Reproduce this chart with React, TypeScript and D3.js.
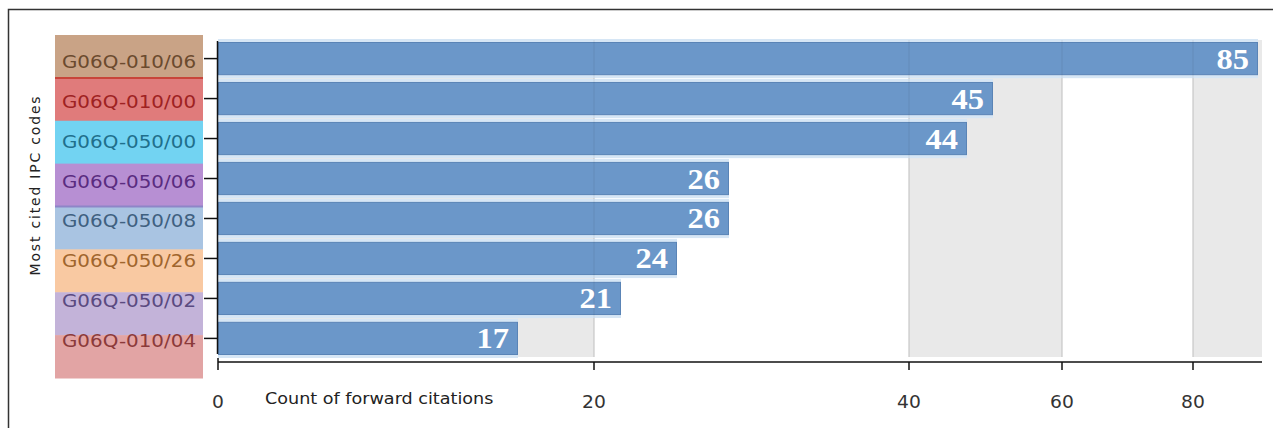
import React from "react";
import * as d3 from "d3";

const categories = [
  "G06Q-010/06",
  "G06Q-010/00",
  "G06Q-050/00",
  "G06Q-050/06",
  "G06Q-050/08",
  "G06Q-050/26",
  "G06Q-050/02",
  "G06Q-010/04",
];
const values = [85, 45, 44, 26, 26, 24, 21, 17];
const tickValues = [0, 20, 40, 60, 80];
const labelFills = ["#c9a386", "#e07b7b", "#72d3f2", "#b78fd3", "#a9c4e2", "#f9c9a2", "#c3b3d9", "#e2a4a4"];
const labelInk = ["#6b4a2e", "#9e2222", "#1f6f8c", "#5a2c80", "#3f6080", "#a0652d", "#5a4a80", "#8b3a3a"];
const separatorRows = [1, 4];
const separatorColors = ["#c8453a", "#8e85c8"];
const xTitle = "Count of forward citations";
const yTitle = "Most cited IPC codes";

// the reference axis is non-uniform: knots
const xKnots = [0, 17, 20, 21, 24, 26, 40, 44, 45, 60, 80, 85, 85.3];
const xKnotPx = [218, 518, 594, 621, 677, 729, 909, 967, 993, 1062, 1193, 1258, 1262];

export default function App() {
  const W = 1273, H = 428;
  const x = d3.scaleLinear().domain(xKnots).range(xKnotPx);
  const y = d3.scaleBand<string>().domain(categories).range([42, 355]).paddingInner(0.17).paddingOuter(0);
  const yLab = d3.scaleBand<string>().domain(categories).range([35, 378]).padding(0);
  const plotTop = 40, plotBottom = 357;
  const xMax = xKnots[xKnots.length - 1];
  const bandEdges = [...tickValues, xMax];
  const axisY = 362;
  const sans = "'DejaVu Sans', Verdana, sans-serif";

  return (
    <svg width={W} height={H} style={{ position: "absolute", left: 0, top: 0, background: "#fff" }}>
      {/* frame */}
      <path d={`M8.5,${H} V9.5 H${W}`} fill="none" stroke="#333" strokeWidth={1.5} />

      {/* alternating bands */}
      {bandEdges.slice(0, -1).map((v, i) => (
        <rect key={"b" + i} x={x(v)} y={plotTop} width={x(bandEdges[i + 1]) - x(v)} height={plotBottom - plotTop}
          fill={i % 2 === 0 ? "#e9e9e9" : "#ffffff"} />
      ))}
      {tickValues.slice(1).map((v) => (
        <line key={"g" + v} x1={x(v)} x2={x(v)} y1={plotTop} y2={plotBottom} stroke="#cfcfcf" strokeWidth={1} />
      ))}

      {/* bars */}
      {categories.map((c, i) => (
        <rect key={"h" + c} x={x(0)} y={(y(c) as number) - 3} width={x(values[i]) - x(0)} height={y.bandwidth() + 6}
          fill="#d6e6f5" />
      ))}
      {categories.map((c, i) => (
        <rect key={"r" + c} x={x(0) + 0.5} y={(y(c) as number) + 0.5} width={x(values[i]) - x(0) - 1} height={y.bandwidth() - 1}
          fill="#6b97c9" stroke="#5a84b6" strokeWidth={1} />
      ))}
      {tickValues.slice(1).map((v) => (
        <line key={"go" + v} x1={x(v)} x2={x(v)} y1={plotTop} y2={plotBottom} stroke="#000" strokeOpacity={0.07} strokeWidth={1} />
      ))}
      {categories.map((c, i) => (
        <text key={"v" + c}
          transform={`translate(${x(values[i]) - 9},${(y(c) as number) + y.bandwidth() / 2 + 10}) scale(1.12,1)`}
          textAnchor="end" fill="#fff" fontFamily="'Liberation Serif', 'Times New Roman', serif"
          fontWeight="bold" fontSize={29}>
          {values[i]}
        </text>
      ))}

      {/* category colour column */}
      {categories.map((c, i) => (
        <rect key={"l" + c} x={55} y={yLab(c)} width={148} height={yLab.bandwidth() + 0.5} fill={labelFills[i]} />
      ))}
      {separatorRows.map((r, k) => (
        <line key={"s" + r} x1={55} x2={203} y1={yLab(categories[r])} y2={yLab(categories[r])}
          stroke={separatorColors[k]} strokeWidth={2} />
      ))}
      {categories.map((c, i) => (
        <text key={"t" + c}
          transform={`translate(${129},${(y(c) as number) + y.bandwidth() / 2 + 9}) scale(1.17,1)`}
          textAnchor="middle" fill={labelInk[i]} fontFamily={sans} fontSize={17}>
          {c}
        </text>
      ))}

      {/* y axis */}
      <line x1={217.5} x2={217.5} y1={41} y2={354} stroke="#111" strokeWidth={1.5} />
      {categories.map((c) => (
        <line key={"yt" + c} x1={204} x2={217.5} y1={(y(c) as number) + y.bandwidth() / 2}
          y2={(y(c) as number) + y.bandwidth() / 2} stroke="#111" strokeWidth={1.5} />
      ))}

      {/* x axis */}
      <line x1={x(0)} x2={x(xMax)} y1={axisY} y2={axisY} stroke="#111" strokeWidth={1.5} />
      {tickValues.map((v) => (
        <g key={"xt" + v}>
          <line x1={x(v)} x2={x(v)} y1={v === 0 ? axisY - 4 : axisY} y2={axisY + 8} stroke="#111" strokeWidth={1.5} />
          <text transform={`translate(${x(v)},408) scale(1.1,1)`} textAnchor="middle" fill="#333" fontFamily={sans} fontSize={17}>
            {v}
          </text>
        </g>
      ))}
      <text transform="translate(265,404) scale(1.1,1)" fill="#222" fontFamily={sans} fontSize={16}>
        {xTitle}
      </text>
      <text transform={`translate(40,185) rotate(-90)`} textAnchor="middle" fill="#222" fontFamily={sans}
        fontSize={14} letterSpacing={1.8}>
        {yTitle}
      </text>
    </svg>
  );
}
